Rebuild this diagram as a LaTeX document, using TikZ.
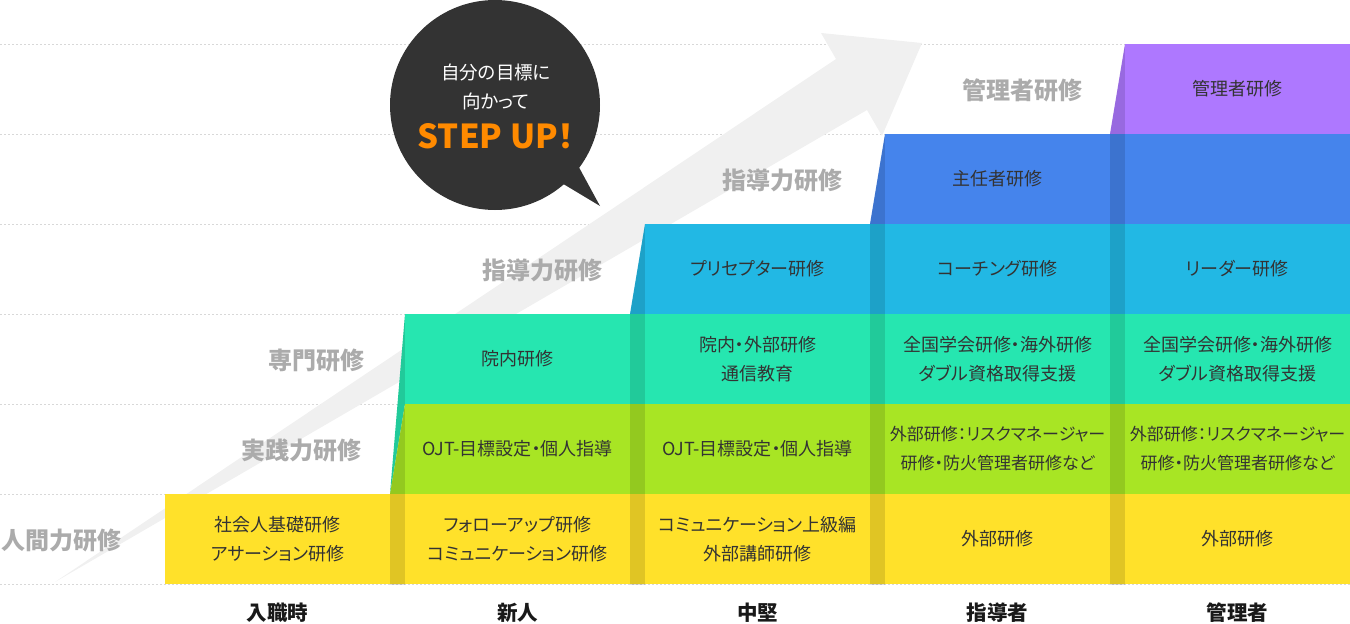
\documentclass[tikz,border=0pt]{standalone}
\usepackage{fontspec}
\setmainfont{Noto Sans CJK JP}[RawFeature=+palt]
\usepackage{tikz}
\usetikzlibrary{positioning}

\definecolor{bandyellow}{HTML}{FFE12A}
\definecolor{bandlime}{HTML}{A8E524}
\definecolor{bandteal}{HTML}{26E6B0}
\definecolor{bandcyan}{HTML}{22B8E4}
\definecolor{bandblue}{HTML}{4584EC}
\definecolor{bandpurple}{HTML}{AE78FF}
\definecolor{labelgray}{HTML}{ABABAB}
\definecolor{bubblegray}{HTML}{333333}
\definecolor{stepup}{HTML}{FF8A00}
\definecolor{arrowgray}{HTML}{F0F0F0}
\definecolor{gridgray}{HTML}{D8D8D8}

% one coloured band, darkened where the columns meet
\newcommand\drawband[2]{%
  \fill[#1] #2;
  \begin{scope}
    \clip #2;
    \foreach \xs in {390,630,870,1110}
      \fill[divider] (\xs,0) rectangle ++(15,624);
  \end{scope}}

\begin{document}
\begin{tikzpicture}[x=1pt,y=-1pt,
    course/.style={font=\fontsize{18}{29}\selectfont, text=black!80, align=center, inner sep=0pt},
    narrow/.style={font=\fontsize{17}{29}\selectfont},
    level/.style={font=\fontsize{24}{24}\selectfont\bfseries, text=labelgray, anchor=east, inner sep=0pt},
    stage/.style={font=\fontsize{20.5}{20.5}\selectfont\bfseries, text=black!90, inner sep=0pt},
    divider/.style={fill=black, fill opacity=0.12}]

  \useasboundingbox (0,0) rectangle (1350,624);

  % guide lines
  \foreach \y in {44,134,...,584}
    \draw[gridgray, line width=0.8pt, dash pattern=on 2pt off 2pt] (0,\y) -- (1350,\y);

  % background arrow
  \fill[arrowgray] (55,582) -- (836,59) -- (821,33) -- (922,43) -- (882,136) -- (867,110) -- cycle;

  % bands
  \drawband{bandpurple}{(1125,44) -- (1350,44) -- (1350,134) -- (1110,134) -- cycle}
  \drawband{bandblue}{(885,134) -- (1350,134) -- (1350,224) -- (870,224) -- cycle}
  \drawband{bandcyan}{(645,224) -- (1350,224) -- (1350,314) -- (630,314) -- cycle}
  \drawband{bandteal}{(405,314) -- (1350,314) -- (1350,404) -- (405,404) -- (390,494) -- cycle}
  \drawband{bandlime}{(405,404) -- (1350,404) -- (1350,494) -- (390,494) -- cycle}
  \drawband{bandyellow}{(165,494) -- (1350,494) -- (1350,584) -- (165,584) -- cycle}

  % speech bubble
  \fill[bubblegray] (495,105) circle (105);
  \fill[bubblegray] (575,160) -- (600,206) -- (550,176) -- cycle;
  \node[font=\fontsize{18.5}{29}\selectfont, text=white, align=center] (goal) at (496,86.5) {自分の目標に\\向かって};
  \node[font=\fontsize{33}{33}\selectfont\bfseries, text=stepup, inner sep=0pt] (stepup) [below=10pt of goal] {STEP UP！};

  % level labels
  \node[level] (human)    at (122,540)  {人間力研修};
  \node[level] (practice) at (362,450)  {実践力研修};
  \node[level] (special)  at (365,360)  {専門研修};
  \node[level] (guideA)   at (603,270)  {指導力研修};
  \node[level] (guideB)   at (843,180)  {指導力研修};
  \node[level] (manage)   at (1083,90)  {管理者研修};

  % courses
  \node[course] (mgr5)     at (1237.5,89)  {管理者研修};
  \node[course] (chief4)   at (997.5,179)  {主任者研修};
  \node[course] (precept3) at (757.5,269)  {プリセプター研修};
  \node[course] (coach4)   at (997.5,269)  {コーチング研修};
  \node[course] (leader5)  at (1237.5,269) {リーダー研修};
  \node[course] (inner2)   at (517.5,359)  {院内研修};
  \node[course] (inner3)   at (757.5,359)  {院内・外部研修\\通信教育};
  \node[course] (society4) at (997.5,359)  {全国学会研修・海外研修\\ダブル資格取得支援};
  \node[course] (society5) at (1237.5,359) {全国学会研修・海外研修\\ダブル資格取得支援};
  \node[course] (ojt2)     at (517.5,449)  {OJT-目標設定・個人指導};
  \node[course] (ojt3)     at (757.5,449)  {OJT-目標設定・個人指導};
  \node[course,narrow] (risk4) at (997.5,449)  {外部研修：リスクマネージャー\\研修・防火管理者研修など};
  \node[course,narrow] (risk5) at (1237.5,449) {外部研修：リスクマネージャー\\研修・防火管理者研修など};
  \node[course] (basic1)   at (277.5,539)  {社会人基礎研修\\アサーション研修};
  \node[course] (follow2)  at (517.5,539)  {フォローアップ研修\\コミュニケーション研修};
  \node[course] (comm3)    at (757.5,539)  {コミュニケーション上級編\\外部講師研修};
  \node[course] (ext4)     at (997.5,539)  {外部研修};
  \node[course] (ext5)     at (1237.5,539) {外部研修};

  % stages
  \node[stage] (entry)   at (277.5,613)  {入職時};
  \node[stage] (newbie)  at (517.5,613)  {新人};
  \node[stage] (middle)  at (757.5,613)  {中堅};
  \node[stage] (leader)  at (997.5,613)  {指導者};
  \node[stage] (manager) at (1237.5,613) {管理者};
\end{tikzpicture}
\end{document}
